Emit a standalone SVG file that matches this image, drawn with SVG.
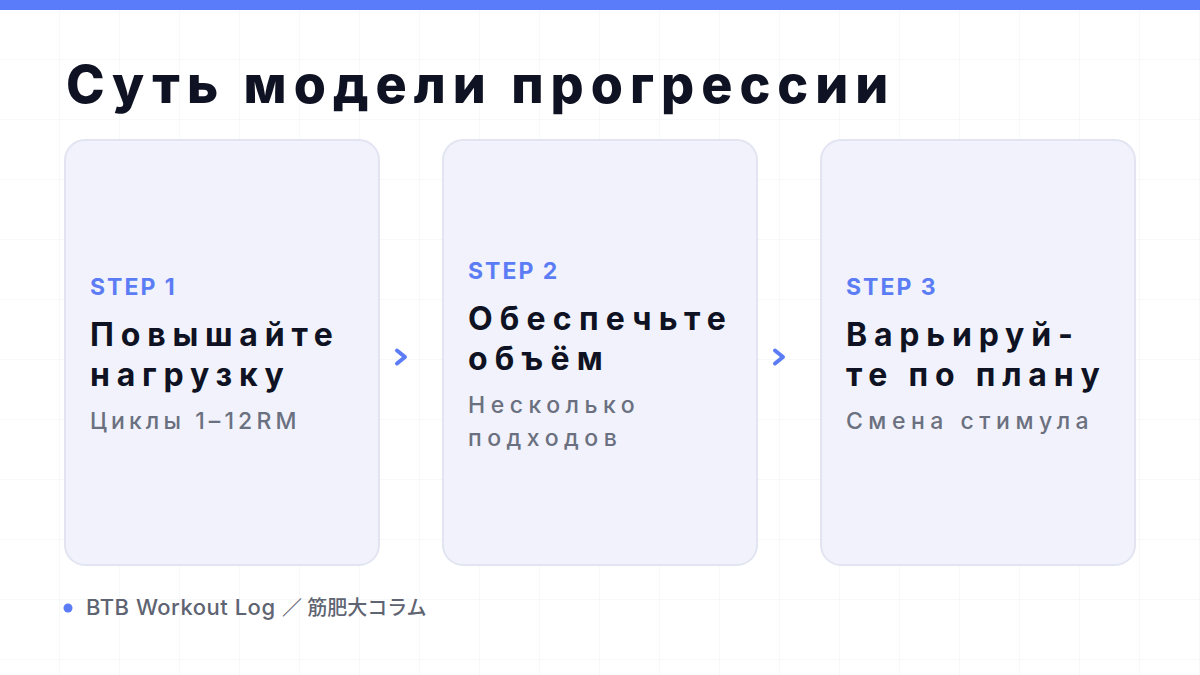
<svg xmlns="http://www.w3.org/2000/svg" width="1200" height="675" viewBox="0 0 1200 675">
<defs>
<pattern id="grid" width="60" height="60" patternUnits="userSpaceOnUse">
<path d="M60 0V60M0 60H60" fill="none" stroke="#eef0f4" stroke-width="1"/>
</pattern>
<style>
.card{fill:#f1f2fb;stroke:#e2e5f1;stroke-width:2}
.step{font-family:Inter,"Noto Sans",sans-serif;font-weight:700;font-size:23px;fill:#5b7cf5;letter-spacing:2px}
.head{font-family:Inter,"Noto Sans",sans-serif;font-weight:700;font-size:32px;fill:#0f1222;letter-spacing:6.8px}
.sub{font-family:Inter,"Noto Sans",sans-serif;font-weight:500;font-size:23px;fill:#6b7080;letter-spacing:5.5px}
.title{font-family:Inter,"Noto Sans",sans-serif;font-weight:800;font-size:52px;fill:#0f1222;letter-spacing:7px}
.foot{font-family:Inter,"Noto Sans CJK JP",sans-serif;font-weight:500;font-size:22px;fill:#5f6472;letter-spacing:0.5px}
.cjk{font-size:20px;letter-spacing:0}
.chev{fill:none;stroke:#5b7cf5;stroke-width:4;stroke-linecap:round;stroke-linejoin:round}
</style>
</defs>
<rect width="1200" height="675" fill="#ffffff"/>
<rect width="1200" height="675" fill="url(#grid)"/>
<rect x="0" y="0" width="1200" height="10" fill="#5b7cfa"/>
<text class="title" x="66" y="103">Суть модели прогрессии</text>

<g id="step1">
<rect class="card" x="65" y="140" width="314" height="425" rx="20"/>
<text class="step" x="90" y="295">STEP 1</text>
<text class="head" x="90" y="346">Повышайте</text>
<text class="head" x="90" y="386">нагрузку</text>
<text class="sub" x="90" y="429" style="letter-spacing:4.1px">Циклы 1–12RM</text>
</g>
<g id="step2">
<rect class="card" x="443" y="140" width="314" height="425" rx="20"/>
<text class="step" x="468" y="279">STEP 2</text>
<text class="head" x="468" y="330" style="letter-spacing:7.2px">Обеспечьте</text>
<text class="head" x="468" y="370" style="letter-spacing:7.2px">объём</text>
<text class="sub" x="468" y="413">Несколько</text>
<text class="sub" x="468" y="446">подходов</text>
</g>
<g id="step3">
<rect class="card" x="821" y="140" width="314" height="425" rx="20"/>
<text class="step" x="846" y="295">STEP 3</text>
<text class="head" x="846" y="346">Варьируй-</text>
<text class="head" x="846" y="386">те по плану</text>
<text class="sub" x="846" y="429">Смена стимула</text>
</g>
<g id="connectors">
<path class="chev" d="M397 350.5L405 357L397 363.5"/>
<path class="chev" d="M775 350.5L783 357L775 363.5"/>
</g>
<g id="footer">
<circle cx="68" cy="608" r="4.5" fill="#5b7cf5"/>
<text class="foot" x="86" y="615">BTB Workout Log <tspan class="cjk">／ 筋肥大コラム</tspan></text>
</g>
</svg>
